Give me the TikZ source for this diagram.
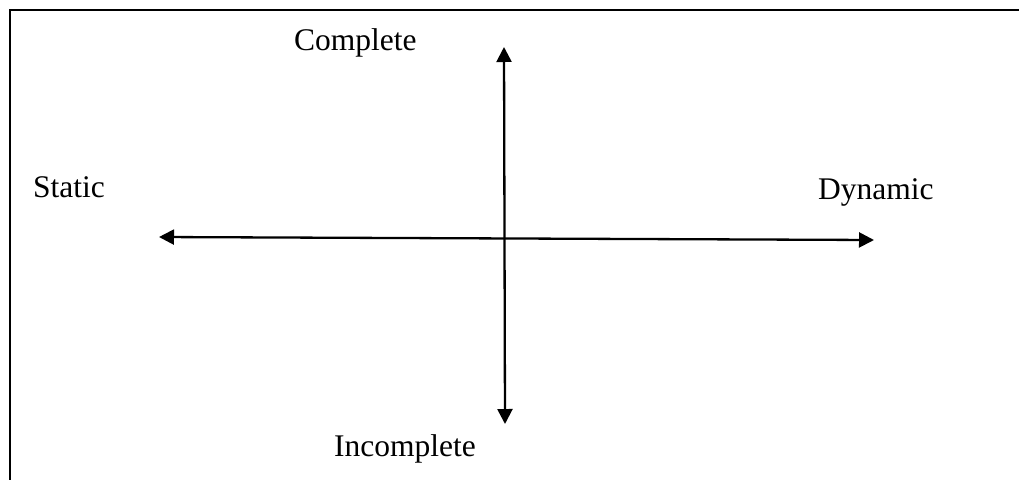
\documentclass[tikz,border=0pt]{standalone}
\usepackage{fontspec}
\setmainfont{Liberation Serif}
\usetikzlibrary{arrows.meta}
\begin{document}
\begin{tikzpicture}[x=1pt,y=-1pt,
  axis/.style={line width=2.3pt,{Triangle[length=15pt,width=15pt]}-{Triangle[length=15pt,width=15pt]}},
  lbl/.style={inner sep=0pt,anchor=base west,font=\fontsize{31.5}{36}\selectfont},
  frameline/.style={line width=2.2pt}]
\useasboundingbox (0,0) rectangle (1019,480);
\coordinate (f1) at (1019,10);
\coordinate (f0) at (10,10);
\coordinate (f2) at (10,480);
\draw[frameline] (f1) -- (f0) -- (f2);
\coordinate (L) at (159,237);
\coordinate (R) at (874,240);
\coordinate (T) at (504,47);
\coordinate (B) at (505,424);
\draw[axis] (L) -- (R);
\draw[axis] (T) -- (B);
\node[lbl] (complete) at (294,50) {Complete};
\node[lbl] (static) at (33,197) {Static};
\node[lbl] (dynamic) at (818,199) {Dynamic};
\node[lbl] (incomplete) at (334,456) {Incomplete};
\end{tikzpicture}
\end{document}
